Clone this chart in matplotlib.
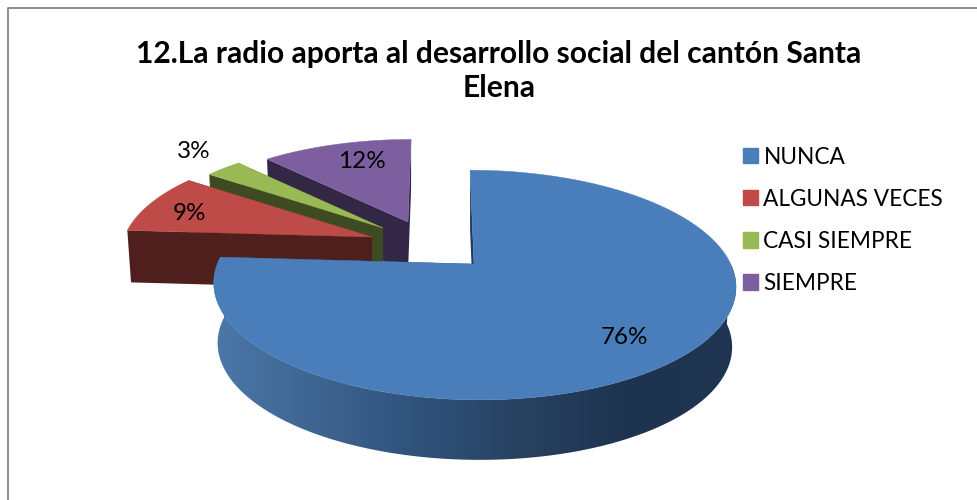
# Importing Libraries
import numpy as np
import matplotlib
matplotlib.use("Agg")
import matplotlib.pyplot as plt
from matplotlib.colors import LinearSegmentedColormap
from matplotlib.patches import Patch, Polygon

# Data
categories = ["NUNCA", "ALGUNAS VECES", "CASI SIEMPRE", "SIEMPRE"]
values = [76, 9, 3, 12]
labels = ["76%", "9%", "3%", "12%"]
title = "12.La radio aporta al desarrollo social del cantón Santa\nElena"

# Colors
top_colors = ["#4a7ebb", "#be4b48", "#98b954", "#7d5fa0"]
cut_colors = ["#1f3a5a", "#4f1f1e", "#3e4a22", "#322845"]
side_ramp = ["#4d79ab", "#3f6592", "#2f527a", "#27415f", "#1d3350", "#1f3550"]

# Pie layout, in pixels of the 977x500 picture
apex = [(474, 264), (372, 237), (383, 228), (408, 222)]
scale_x = [0.995, 0.96, 0.91, 0.92]
scale_y = [1.0, 0.96, 0.91, 0.88]
depth = [60, 52, 50, 50]
shear = [-4.7, -4.7, -4.7, 4.0]
label_pos = [(624, 337), (190, 214), (194, 151), (362, 162)]
RX, RY, K = 258, 111, 0.183
SHRINK = 0.985

plt.rcParams["font.family"] = ["Lato", "DejaVu Sans"]


def project(theta, i):
    u, v = np.sin(theta), np.cos(theta)
    w = 1 + K * v
    return (apex[i][0] + scale_x[i] * (RX * u + shear[i] * v) / w,
            apex[i][1] - scale_y[i] * RY * v / w)


def lower(x, y, i):
    return apex[i][0] + (x - apex[i][0]) * SHRINK, y + depth[i]


fig = plt.figure(figsize=(9.77, 5.0), dpi=100)
ax = fig.add_axes([0, 0, 1, 1])

bounds = np.radians(np.concatenate([[0], np.cumsum(values)]) / sum(values) * 360)
side_cmap = LinearSegmentedColormap.from_list("side", side_ramp)

# Back slices first, the big one last so it covers their feet
for i in [3, 2, 1, 0]:
    theta = np.linspace(bounds[i], bounds[i + 1], 200)
    x, y = project(theta, i)
    ax0, ay0 = apex[i]
    bx, by = lower(ax0, ay0, i)

    # Cut faces
    for t in [bounds[i], bounds[i + 1]]:
        ex, ey = project(t, i)
        fx, fy = lower(ex, ey, i)
        ax.add_patch(Polygon([(ax0, ay0), (ex, ey), (fx, fy), (bx, by)],
                             color=cut_colors[i], lw=0, zorder=2))

    # Rim with horizontal shading, only the blue one is seen from the front
    if i == 0:
        front = np.linspace(np.radians(90), bounds[1], 300)
        fx, fy = project(front, i)
        lx, ly = lower(fx, fy, i)
        rim = np.column_stack([np.r_[fx, lx[::-1]], np.r_[fy, ly[::-1]]])
        rim_patch = Polygon(rim, color="none", lw=0, zorder=3)
        ax.add_patch(rim_patch)
        gradient = ax.imshow(np.linspace(0, 1, 256).reshape(1, -1), cmap=side_cmap, aspect="auto",
                             extent=(205, 740, 480, 250), zorder=3)
        gradient.set_clip_path(rim_patch)

    ax.add_patch(Polygon(np.column_stack([np.r_[ax0, x], np.r_[ay0, y]]),
                         color=top_colors[i], lw=0.3, zorder=4))

for text, (px, py) in zip(labels, label_pos):
    ax.text(px, py, text, ha="center", va="center", fontsize=17.5, color="black", zorder=5)

ax.text(499, 71, title, ha="center", va="center", fontsize=21.6, fontweight="bold",
        color="black", linespacing=1.24, zorder=5)

# Chart frame, only the left and top edges are in the picture
ax.plot([8, 8, 977], [500, 8, 8], color="#868686", lw=1.3, zorder=1)

handles = [Patch(color=c, label=n) for c, n in zip(top_colors, categories)]
ax.legend(handles=handles, loc="upper left", bbox_to_anchor=(736 / 977, 1 - 140 / 500), frameon=False,
          fontsize=16.3, handlelength=0.65, handleheight=0.65, handletextpad=0.26,
          labelspacing=0.93, borderpad=0.3, borderaxespad=0)

ax.set_xlim(0, 977)
ax.set_ylim(500, 0)
ax.axis("off")

plt.savefig("out.png", dpi=100)
plt.close()
